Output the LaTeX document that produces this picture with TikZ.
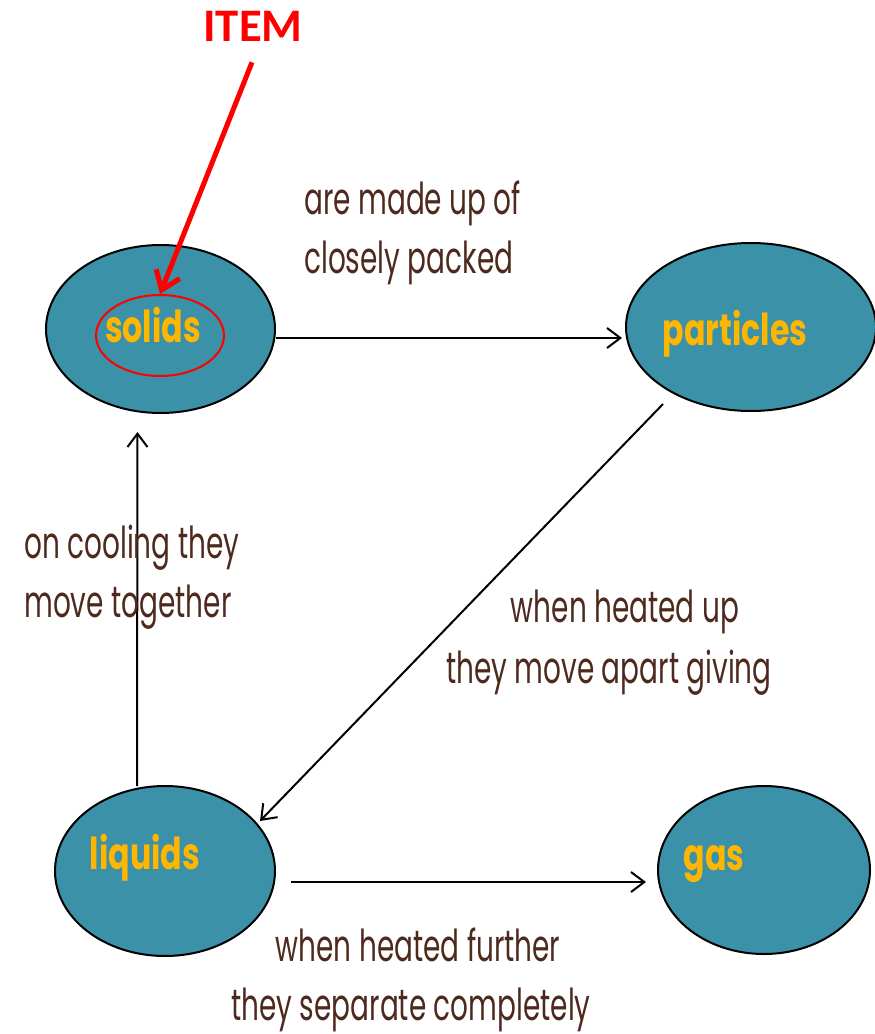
\documentclass[tikz,border=0pt]{standalone}
\usepackage{fontspec}
\usetikzlibrary{shapes.geometric,arrows.meta,calc}
\newfontfamily\condfont[FakeStretch=0.635]{Poppins}
\newfontfamily\condbold[FakeStretch=0.72]{Poppins}
\newfontfamily\itemfont{Carlito}
\definecolor{teal}{HTML}{3A91A8}
\definecolor{gold}{HTML}{FFB600}
\definecolor{brownish}{HTML}{4E2A1E}
\definecolor{alert}{HTML}{FF0000}
\begin{document}
\begin{tikzpicture}[x=0.75pt,y=-0.75pt,
  state/.style={ellipse, draw=black, line width=1.5pt, fill=teal, inner sep=0pt},
  statename/.style={anchor=base, inner sep=0pt, text=gold, font=\condbold\bfseries\fontsize{33}{38}\selectfont},
  note/.style={inner sep=0pt, text=brownish, font=\condfont\fontsize{33}{38}\selectfont},
  conn/.style={draw=black, line width=1.5pt, -{Straight Barb[length=10pt,width=15pt]}},
  pointer/.style={draw=alert, line width=3.75pt, -{Straight Barb[length=13pt,width=19pt]}}]
\useasboundingbox (0,0) rectangle (874,1034);

% state bubbles
\node[state, minimum width=171.75pt, minimum height=126pt] (solids) at (160.5,329) {};
\node[state, minimum width=187.5pt, minimum height=126pt] (particles) at (751,327) {};
\node[state, minimum width=165pt, minimum height=127.5pt] (liquids) at (165,871) {};
\node[state, minimum width=159pt, minimum height=126pt] (gas) at (764,870) {};

% highlight ring around the first term
\node[ellipse, draw=alert, line width=1.5pt, inner sep=0pt, minimum width=96pt, minimum height=60.75pt] (ring) at (160,335.5) {};

% names inside the bubbles
\node[statename] (tsolids) at (153,342) {solids};
\node[statename] (tparticles) at (735,345) {particles};
\node[statename] (tliquids) at (145,869) {liquids};
\node[statename] (tgas) at (714,870) {gas};

% callout
\node[anchor=base, inner sep=0pt, text=alert, font=\itemfont\bfseries\fontsize{35}{40}\selectfont] (item) at (253,42) {ITEM};
\draw[pointer] ($(item.south)+(-1,20)$) -- (ring.north);

% connectors
\draw[conn] ($(solids.center)+(115,9)$) -- ($(particles.center)+(-129,11)$);
\draw[conn] ($(particles.center)+(-88,77)$) -- ($(liquids.center)+(95,-50)$);
\draw[conn] ($(liquids.center)+(-28,-85)$) -- ($(solids.center)+(-23,103)$);
\draw[conn] ($(liquids.center)+(126,11)$) -- ($(gas.center)+(-118,12)$);

% connector labels
\node[note, anchor=base west] (l1a) at (304,215) {are made up of};
\node[note, anchor=base west] (l1b) at (304,273) {closely packed};
\node[note, anchor=base west] (l2a) at (24,558) {on cooling they};
\node[note, anchor=base west] (l2b) at (24,617) {move together};
\node[note, anchor=base] (l3a) at (625,622) {when heated up};
\node[note, anchor=base] (l3b) at (609,683) {they move apart giving};
\node[note, anchor=base] (l4a) at (418,961) {when heated further};
\node[note, anchor=base] (l4b) at (411,1020) {they separate completely};
\end{tikzpicture}
\end{document}
